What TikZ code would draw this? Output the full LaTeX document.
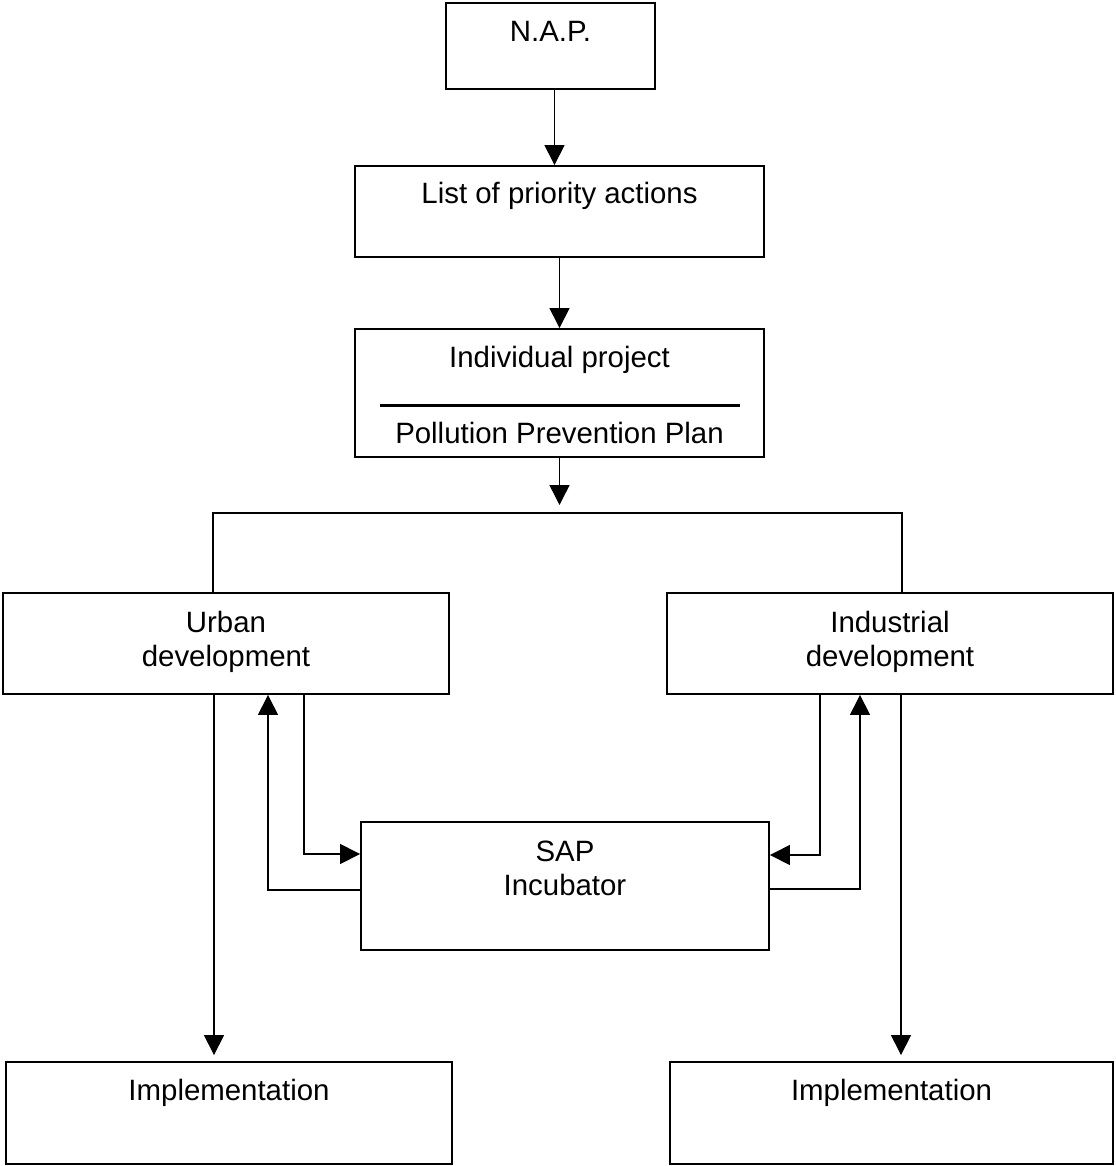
\documentclass[tikz,border=0pt]{standalone}
\usepackage{fontspec}
\setmainfont{Liberation Sans}
\usepackage{tikz}
\usetikzlibrary{arrows.meta}

\tikzset{
  box/.style={draw, rectangle, line width=0.95pt, inner xsep=0pt, inner ysep=0pt,
    align=center, font=\fontsize{14.7pt}{17pt}\selectfont},
  link/.style={line width=0.75pt},
  arr/.style={line width=0.75pt, -{Triangle[length=10pt,width=10pt]}}
}

\begin{document}
\begin{tikzpicture}[x=0.5pt, y=-0.5pt]
                \useasboundingbox (0,0) rectangle (1115,1166);
                \node [box, minimum width=104.5pt, text height=19.25pt, text depth=23.75pt] (nap) at (550.5,46) {N.A.P.};
                \node [box, minimum width=204.5pt, text height=19pt, text depth=26.5pt] (list) at (559.5,211.5) {List of priority actions};
                \node [box, minimum width=204.5pt, text height=57.15pt, text depth=6.85pt] (indiv) at (559.5,393) {Individual project\\[2.75pt]\rule{180pt}{1.2pt}\\[1.4pt]Pollution Prevention Plan};
                \node [box, minimum width=223pt, text height=36.5pt, text depth=14pt] (urban) at (226,643.5) {Urban\\development};
                \node [box, minimum width=223pt, text height=36.5pt, text depth=14pt] (industrial) at (890,643.5) {Industrial\\development};
                \node [box, minimum width=204pt, text height=36.5pt, text depth=27.5pt] (sap) at (565,886) {SAP\\Incubator};
                \node [box, minimum width=223pt, text height=19pt, text depth=32pt] (impl1) at (229,1113) {Implementation};
                \node [box, minimum width=221.5pt, text height=19pt, text depth=32pt] (impl2) at (891.5,1113) {Implementation};
                \coordinate (fork) at (559.5,513);
                \draw [arr] ([xshift=2pt]nap.south) -- ([xshift=2pt]nap.south |- list.north);
                \draw [arr] (list) -- (indiv);
                \draw [arr] (indiv.south) -- ([yshift=4pt]fork);
                \draw [link] ([xshift=-6.5pt]urban.north) |- (fork) -| ([xshift=6pt]industrial.north);
                \draw [arr] ([xshift=-6pt]urban.south) -- ([xshift=-6pt,yshift=3pt]urban.south |- impl1.north);
                \draw [arr] ([xshift=5.5pt]industrial.south) -- ([xshift=5.5pt,yshift=3pt]industrial.south |- impl2.north);
                \draw [arr] ([xshift=39pt]urban.south) |- ([yshift=16pt]sap.west);
                \draw [arr] ([yshift=-2pt]sap.west) -| ([xshift=21pt]urban.south);
                \draw [arr] ([xshift=-35pt]industrial.south) |- ([yshift=15.5pt]sap.east);
                \draw [arr] ([yshift=-1.5pt]sap.east) -| ([xshift=-15pt]industrial.south);
\end{tikzpicture}
\end{document}
